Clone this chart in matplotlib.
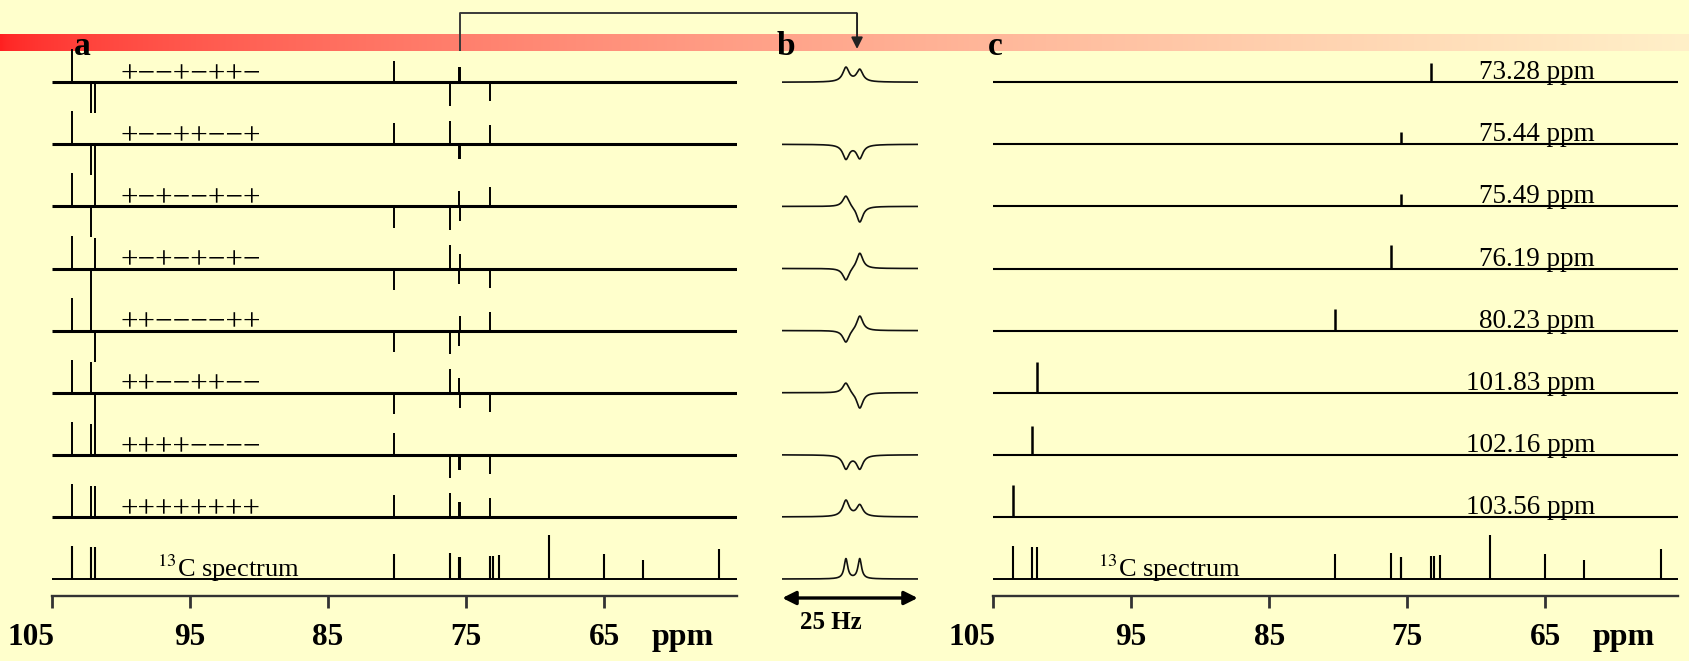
import numpy as np
import matplotlib.pyplot as plt
from matplotlib.transforms import ScaledTranslation

plt.rcParams['font.family'] = ['Liberation Serif', 'DejaVu Serif']
plt.rcParams['mathtext.fontset'] = 'stix'

# carbons encoded in the Hadamard rows (ppm) and their peak size in the encoded spectra
shifts = [103.56, 102.16, 101.83, 80.23, 76.19, 75.49, 75.44, 73.28]
amp_a = [33, 31, 31, 21.5, 23.5, 15, 15, 19]
# sign pattern of each encoded row, top row first
patterns = ['+−−+−++−', '+−−++−−+', '+−+−−+−+', '+−+−+−+−',
            '++−−−−++', '++−−++−−', '++++−−−−', '++++++++']

# reference 13C spectrum
c13_shifts = [103.56, 102.16, 101.83, 80.23, 76.19, 75.49, 75.44, 73.28,
              73.08, 72.60, 69.00, 65.00, 62.20, 56.65]
c13_heights = [33, 32, 32, 25, 26, 22, 22, 23, 23, 24, 44, 25, 19, 30]

# decoded single-carbon traces, top row first
labels_c = ['73.28', '75.44', '75.49', '76.19', '80.23', '101.83', '102.16', '103.56']
heights_c = [19, 12.7, 12.7, 23.3, 21.7, 30.7, 29.3, 31.7]

# close-up of the 75.49 / 75.44 pair (Hz across the 25 Hz window), last row = 13C
dbl_hz = [11.75, 14.3]
dbl_left = [14.3, -14.3, 11.4, -12.5, -12.5, 10.7, -13.6, 16.1, 20]
dbl_right = [12.1, -13.6, -16.4, 16.1, 15.4, -16.1, -13.6, 11.4, 20]
dbl_hw = [0.7] * 8 + [0.4]

ticks = [105, 95, 85, 75, 65]

W, H = 1690, 661
BG = '#FFFFCC'
axis_y = 596          # pixel row of the ppm axis
top_y = 40
px_ppm = 13.81
span = (105, 55.4)
rows_y = 17 + 62.1 * np.arange(9)[::-1]   # trace baselines, top row first

fig = plt.figure(figsize=(W / 100, H / 100), dpi=100, facecolor=BG)

# overlay in pixel units for the colour band, bracket and panel letters
ov = fig.add_axes([0, 0, 1, 1])
ov.set_xlim(0, W)
ov.set_ylim(H, 0)
ov.axis('off')
ov.set_facecolor(BG)


def panel(left_px, width_px, xlim):
    ax = fig.add_axes([left_px / W, (H - axis_y) / H, width_px / W, (axis_y - top_y) / H])
    ax.set_xlim(*xlim)
    ax.set_ylim(0, axis_y - top_y)
    ax.patch.set_visible(False)
    for s in ['top', 'left', 'right']:
        ax.spines[s].set_visible(False)
    ax.set_yticks([])
    return ax


def ppm_axis(ax):
    ax.spines['bottom'].set_color('#333333')
    ax.spines['bottom'].set_linewidth(1.7)
    ax.set_xticks(ticks)
    ax.set_xticklabels([str(t) for t in ticks], fontsize=22.5, fontweight='bold')
    ax.tick_params(axis='x', direction='out', length=8.6, width=2.0,
                   color='#333333', pad=10.5)
    lab = ax.get_xticklabels()[0]
    lab.set_horizontalalignment('right')
    lab.set_transform(lab.get_transform() + ScaledTranslation(3 / 100, 0, fig.dpi_scale_trans))
    ax.text(59.3, -41, 'ppm', fontsize=23, fontweight='bold', ha='center', va='center')


width_a = (span[0] - span[1]) * px_ppm

# panel a: Hadamard-encoded spectra
ax_a = panel(51.7, width_a, span)
ppm_axis(ax_a)
for i, pat in enumerate(patterns):
    base = rows_y[i]
    signs = np.array([1 if ch == '+' else -1 for ch in pat])
    ax_a.hlines(base, *span, color='k', lw=2.2)
    ax_a.vlines(shifts, base, base + signs * np.array(amp_a), color='k', lw=1.4)
    ax_a.text(100, base, pat, fontsize=22.5, ha='left', va='baseline')

# panel c: decoded spectra
ax_c = panel(993, width_a, span)
ppm_axis(ax_c)
for i, lab in enumerate(labels_c):
    base = rows_y[i]
    ax_c.hlines(base, *span, color='k', lw=1.5)
    ax_c.vlines(float(lab), base, base + heights_c[i], color='k', lw=1.8)
    ax_c.text(61.4, base + 3, lab + ' ppm', fontsize=19.5, ha='right', va='baseline')

# 13C spectrum at the bottom of a and c
for ax in (ax_a, ax_c):
    base = rows_y[8]
    ax.hlines(base, *span, color='k', lw=1.4)
    ax.vlines(c13_shifts, base, base + np.array(c13_heights), color='k', lw=1.5)
    ax.text(97.4, base + 2.3, r'$^{13}$C spectrum', fontsize=19, ha='left', va='baseline')

# panel b: close-up of the doublet
ax_b = panel(782.3, 135.4, (0, 25))
ax_b.spines['bottom'].set_visible(False)
ax_b.set_xticks([])
hz = np.linspace(0, 25, 800)
for k in range(9):
    y = np.full_like(hz, rows_y[k])
    for pos, h in zip(dbl_hz, (dbl_left[k], dbl_right[k])):
        y += h / (1 + ((hz - pos) / dbl_hw[k]) ** 2)
    ax_b.plot(hz, y, color='#111111', lw=1.2)
ax_b.annotate('', xy=(0, -2), xytext=(25, -2), annotation_clip=False,
              arrowprops=dict(arrowstyle='<|-|>', color='k', lw=2.4,
                              mutation_scale=20, shrinkA=0, shrinkB=0))
ax_b.text(9.0, -26.5, '25 Hz', fontsize=18, fontweight='bold', ha='center', va='center')

# colour band across the top
f = np.linspace(0, 1, 600) ** 0.6
band = np.stack([np.ones_like(f),
                 (32 + (240 - 32) * f) / 255,
                 (32 + (200 - 32) * f) / 255], axis=-1)[None, :, :]
ov.imshow(band, extent=(0, W, 50.7, 34.5), aspect='auto', interpolation='bilinear')
ov.set_xlim(0, W)
ov.set_ylim(H, 0)

# bracket from the 75.4 ppm pair in a to the close-up in b
fig.canvas.draw()
xl = ax_a.transData.transform((75.47, 0))[0]
xr = ax_b.transData.transform((13.8, 0))[0]
ov.plot([xl, xl, xr], [50.7, 13.3, 13.3], color='#3a3a3a', lw=1.4, solid_capstyle='butt')
ov.annotate('', xy=(xr, 49), xytext=(xr, 13.3),
            arrowprops=dict(arrowstyle='-|>', color='#222222', lw=1.4,
                            mutation_scale=17, shrinkA=0, shrinkB=0))

for letter, x in (('a', 82), ('b', 785.5), ('c', 995)):
    ov.text(x, 55, letter, fontsize=24, fontweight='bold', ha='center', va='baseline')

fig.savefig('out.png', dpi=100, facecolor=BG)
